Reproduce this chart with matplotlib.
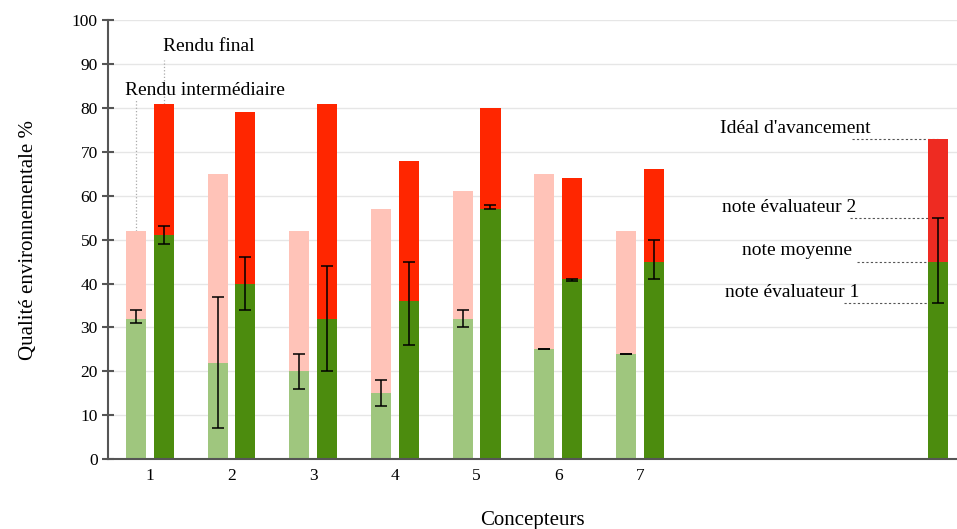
import matplotlib.pyplot as plt
import numpy as np

plt.rcParams['font.family'] = ['Liberation Serif', 'DejaVu Serif']

concepteurs = ['1', '2', '3', '4', '5', '6', '7']
# rendu intermediaire
inter_moy = [32, 22, 20, 15, 32, 25, 24]
inter_eval1 = [31, 7, 16, 12, 30, 25, 24]
inter_eval2 = [34, 37, 24, 18, 34, 25, 24]
inter_ideal = [52, 65, 52, 57, 61, 65, 52]
# rendu final
final_moy = [51, 40, 32, 36, 57, 41, 45]
final_eval1 = [49, 34, 20, 26, 57, 40.5, 41]
final_eval2 = [53, 46, 44, 45, 58, 41, 50]
final_ideal = [81, 79, 81, 68, 80, 64, 66]
# barre de legende
leg_moy, leg_eval1, leg_eval2, leg_ideal = 45, 35.5, 55, 73

vert_clair = '#9fc67e'
rose = '#ffc3b8'
vert = '#4c8c0e'
rouge = '#ff2600'

fig = plt.figure(figsize=(9.57, 5.29), dpi=100)
ax = fig.add_axes([0.113, 0.132, 0.887, 0.83])

x = np.arange(1, 8)
w = 0.245
off = 0.17
xi = x - off
xf = x + off

inter_moy = np.array(inter_moy)
final_moy = np.array(final_moy)

ax.bar(xi, inter_moy, w, color=vert_clair, zorder=2)
ax.bar(xi, np.array(inter_ideal) - inter_moy, w, bottom=inter_moy, color=rose, zorder=2)
ax.bar(xf, final_moy, w, color=vert, zorder=2)
ax.bar(xf, np.array(final_ideal) - final_moy, w, bottom=final_moy, color=rouge, zorder=2)

ax.errorbar(xi, inter_moy, yerr=[inter_moy - np.array(inter_eval1), np.array(inter_eval2) - inter_moy],
            fmt='none', ecolor='black', elinewidth=1.1, capsize=4, capthick=1.1, zorder=3)
ax.errorbar(xf, final_moy, yerr=[final_moy - np.array(final_eval1), np.array(final_eval2) - final_moy],
            fmt='none', ecolor='black', elinewidth=1.1, capsize=4, capthick=1.1, zorder=3)

xl = 10.65
ax.bar(xl, leg_moy, w, color=vert, zorder=2)
ax.bar(xl, leg_ideal - leg_moy, w, bottom=leg_moy, color='#ee2b22', zorder=2)
ax.errorbar(xl, leg_moy, yerr=[[leg_moy - leg_eval1], [leg_eval2 - leg_moy]],
            fmt='none', ecolor='black', elinewidth=1.1, capsize=4, capthick=1.1, zorder=3)

# annotations
fs = 14
ax.plot([xi[0], xi[0]], [inter_ideal[0], 82], ls=':', color='#aaaaaa', lw=0.9, zorder=1)
ax.plot([xf[0], xf[0]], [final_ideal[0], 91], ls=':', color='#aaaaaa', lw=0.9, zorder=1)
ax.text(0.70, 84, 'Rendu intermédiaire', fontsize=fs, ha='left', va='center')
ax.text(1.16, 94, 'Rendu final', fontsize=fs, ha='left', va='center')

notes = [("Idéal d'avancement", leg_ideal, 7.98, 75.4, 9.6),
         ('note évaluateur 2', leg_eval2, 8.0, 57.4, 9.57),
         ('note moyenne', leg_moy, 8.25, 47.6, 9.65),
         ('note évaluateur 1', leg_eval1, 8.04, 38.0, 9.5)]
for txt, val, xt, yt, x0 in notes:
    ax.plot([x0, xl], [val, val], ls=(0, (2, 2)), color='#555555', lw=0.8, zorder=1)
    ax.text(xt, yt, txt, fontsize=fs, ha='left', va='center')

ax.set_xlim(0.49, 10.88)
ax.set_ylim(0, 100)
ax.set_yticks(np.arange(0, 101, 10))
ax.set_xticks(x)
ax.set_xticklabels(concepteurs)
ax.yaxis.grid(True, color='#e6e6e6', lw=1, zorder=0)
ax.set_axisbelow(True)
for s in ['top', 'right']:
    ax.spines[s].set_visible(False)
ax.spines['left'].set_color('#555555')
ax.spines['bottom'].set_color('#555555')
ax.spines['left'].set_linewidth(1.5)
ax.spines['bottom'].set_linewidth(1.5)
ax.tick_params(axis='y', direction='inout', length=8, width=1.5, color='#555555', labelsize=12.5)
ax.tick_params(axis='x', length=0, labelsize=12.5, pad=6)

ax.set_ylabel('Qualité environnementale %', fontsize=15, labelpad=24)
ax.set_xlabel('Concepteurs', fontsize=15, labelpad=20)

fig.savefig('out.png', dpi=100)
